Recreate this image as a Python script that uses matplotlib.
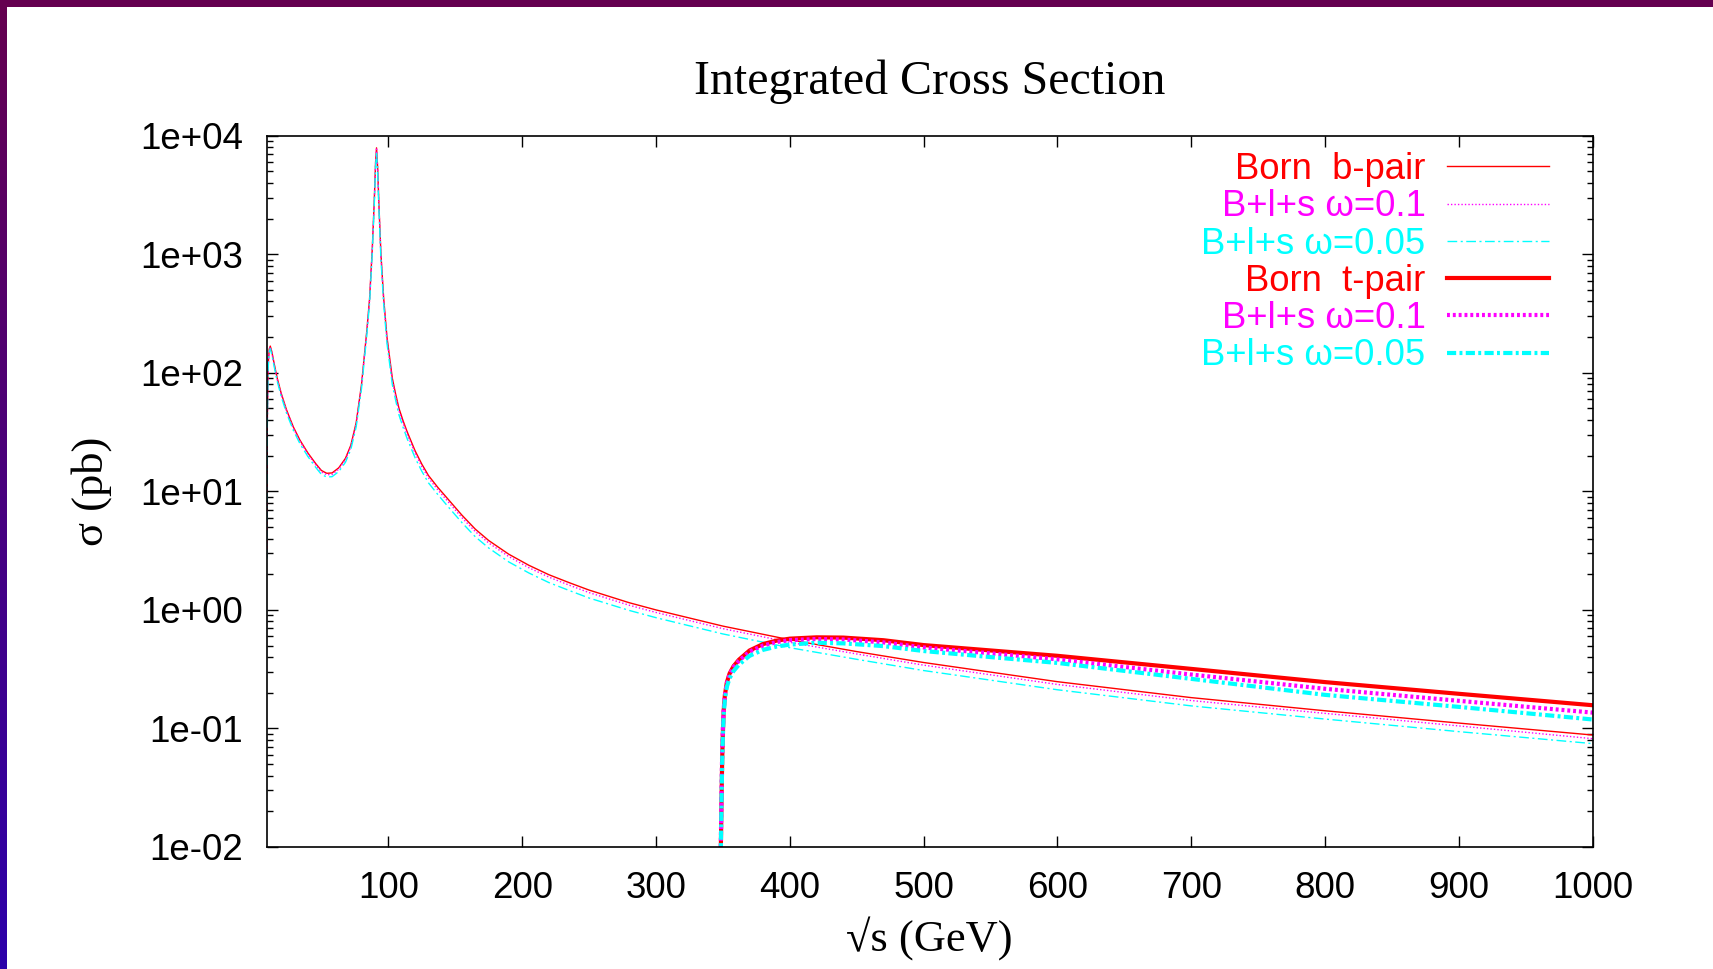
import numpy as np
import matplotlib
matplotlib.use("Agg")
import matplotlib.pyplot as plt
from matplotlib.patches import Rectangle
from matplotlib.colors import LinearSegmentedColormap

# sqrt(s) in GeV for the b-pair curves
x_b = [9.2, 9.6, 10.2, 11, 11.8, 13, 15, 17, 20, 24, 29, 34, 40, 46, 50, 54, 58, 63,
       68, 72, 76, 80, 84, 86, 88, 89.5, 90.5, 91.2, 92, 93, 94.5, 96.5, 99, 103, 105.5,
       108, 111, 114, 120, 125, 130, 137, 145, 155, 165, 175, 190, 205, 220, 235, 250, 280,
       300, 350, 400, 450, 500, 600, 700, 800, 900, 1000]
born_b = [2.8, 40, 115, 158, 168, 150, 115, 90, 67, 48.5, 35, 27, 21, 17, 15, 14.2, 14.3, 15.8,
          19, 24.5, 38, 80, 230, 420, 1100, 2800, 6000, 7900, 5500, 2600, 1000, 430, 200, 90, 66,
          50, 39.5, 32, 22, 17.0, 13.6, 10.8, 8.5, 6.3, 4.8, 3.85, 2.95, 2.38, 1.98, 1.70, 1.47, 1.15,
          1.0, 0.73, 0.56, 0.445, 0.36, 0.248, 0.182, 0.141, 0.111, 0.088]
w01_b = [2.8, 39, 113, 155, 165, 147, 113, 88, 65.5, 47.5, 34.2, 26.4, 20.5, 16.6, 14.6, 13.8, 13.9, 15.4,
         18.5, 23.8, 37, 78, 224, 410, 1070, 2720, 5850, 7700, 5350, 2520, 965, 413, 191, 86, 63,
         47.7, 37.7, 30.5, 21, 16.2, 13.0, 10.3, 8.1, 6.0, 4.58, 3.67, 2.82, 2.27, 1.89, 1.62, 1.40, 1.095,
         0.952, 0.695, 0.533, 0.425, 0.342, 0.235, 0.172, 0.134, 0.105, 0.082]
w005_b = [2.7, 37, 108, 150, 160, 142, 109, 85, 63, 45.5, 32.8, 25.2, 19.6, 15.8, 13.9, 13.2, 13.3, 14.7,
          17.6, 22.6, 35, 74, 212, 388, 1015, 2580, 5550, 7350, 5050, 2380, 905, 385, 178, 79.5, 58.5,
          44, 34.8, 28, 19.2, 14.8, 11.8, 9.4, 7.35, 5.45, 4.14, 3.33, 2.54, 2.05, 1.70, 1.46, 1.26, 0.99,
          0.86, 0.627, 0.48, 0.383, 0.308, 0.212, 0.155, 0.120, 0.094, 0.0745]

# sqrt(s) in GeV for the t-pair curves
x_t = [348.4, 349.0, 349.5, 350.0, 350.6, 351.5, 353, 355, 358, 362, 370, 380, 390, 400,
       420, 440, 470, 500, 550, 600, 700, 800, 900, 1000]
born_t = [0.008, 0.025, 0.055, 0.09, 0.14, 0.19, 0.245, 0.29, 0.335, 0.38, 0.455, 0.515, 0.55, 0.572,
          0.587, 0.584, 0.555, 0.505, 0.455, 0.41, 0.318, 0.246, 0.196, 0.157]
w01_t = [0.009, 0.03, 0.065, 0.10, 0.145, 0.19, 0.24, 0.285, 0.33, 0.372, 0.445, 0.50, 0.535, 0.556,
         0.568, 0.563, 0.532, 0.482, 0.43, 0.383, 0.285, 0.216, 0.171, 0.136]
w005_t = [0.008, 0.024, 0.052, 0.085, 0.13, 0.175, 0.225, 0.265, 0.305, 0.345, 0.41, 0.46, 0.49, 0.51,
          0.528, 0.522, 0.495, 0.45, 0.40, 0.357, 0.262, 0.192, 0.152, 0.119]

labels = ["Born  b-pair", "B+l+s \u03c9=0.1", "B+l+s \u03c9=0.05",
          "Born  t-pair", "B+l+s \u03c9=0.1", "B+l+s \u03c9=0.05"]

W, H = 1713, 969
fig = plt.figure(figsize=(W / 100, H / 100), dpi=100)
fig.patch.set_facecolor("white")

# slide frame: top bar and left gradient strip
fig.patches.append(Rectangle((0, 1 - 7 / H), 1, 7 / H, transform=fig.transFigure,
                             facecolor="#650050", edgecolor="none", zorder=0))
strip = fig.add_axes([0, 0, 7 / W, 1 - 7 / H])
grad = LinearSegmentedColormap.from_list("frame", ["#650050", "#2c00aa"])
strip.imshow(np.linspace(0, 1, 256).reshape(-1, 1), aspect="auto", cmap=grad)
strip.set_axis_off()

ax = fig.add_axes([266.7 / W, 1 - 847 / H, (1592.7 - 266.7) / W, (847 - 135.7) / H])

thin = 1.0
thick = 3.0
ax.plot(x_b, born_b, color="#ff0000", lw=thin, label=labels[0])
ax.plot(x_b, w01_b, color="#ff00ff", lw=thin, ls=(0, (1, 1.5)), label=labels[1])
ax.plot(x_b, w005_b, color="#00ffff", lw=thin, ls=(0, (7, 2.5, 1.5, 2.5)), label=labels[2])
ax.plot(x_t, born_t, color="#ff0000", lw=thick, label=labels[3])
ax.plot(x_t, w01_t, color="#ff00ff", lw=thick, ls=(0, (0.7, 0.7)), label=labels[4])
ax.plot(x_t, w005_t, color="#00ffff", lw=thick, ls=(0, (2.2, 0.8, 0.7, 0.8)), label=labels[5])

ax.set_yscale("log")
ax.set_xlim(9.13, 1000)
ax.set_ylim(1e-2, 1e4)
ax.set_xticks(np.arange(100, 1001, 100))
ax.set_xticklabels([str(v) for v in range(100, 1001, 100)])
ax.set_yticks([1e-2, 1e-1, 1e0, 1e1, 1e2, 1e3, 1e4])
ax.set_yticklabels(["1e-02", "1e-01", "1e+00", "1e+01", "1e+02", "1e+03", "1e+04"])
ax.yaxis.set_minor_locator(matplotlib.ticker.LogLocator(base=10, subs=np.arange(2, 10)))
ax.yaxis.set_minor_formatter(matplotlib.ticker.NullFormatter())

sans = ["Liberation Sans", "DejaVu Sans"]
serif = ["Liberation Serif", "DejaVu Serif"]
ax.tick_params(which="both", direction="in", top=True, right=True, width=1.0, color="black")
ax.tick_params(which="major", length=8)
ax.tick_params(which="minor", length=4)
ax.tick_params(axis="y", pad=17)
ax.tick_params(axis="x", pad=17)
for lab in ax.get_xticklabels() + ax.get_yticklabels():
    lab.set_fontfamily(sans)
    lab.set_fontsize(26.5)
for sp in ax.spines.values():
    sp.set_linewidth(1.2)

ax.set_title("Integrated Cross Section", fontfamily=serif, fontsize=34.5, pad=30)
ax.set_xlabel("\u221as (GeV)", fontfamily=serif, fontsize=32, labelpad=8)
ax.set_ylabel("\u03c3 (pb)", fontfamily=serif, fontsize=32, labelpad=20)

leg = ax.legend(loc="upper right", bbox_to_anchor=(0.967, 0.977), frameon=False,
                markerfirst=False, labelcolor="linecolor", handlelength=2.78,
                handletextpad=0.6, labelspacing=0.062, borderpad=0, borderaxespad=0,
                prop={"family": sans, "size": 26.3})
leg._legend_box._children[-1]._children[0].align = "right"

fig.savefig("out.png", dpi=100)
